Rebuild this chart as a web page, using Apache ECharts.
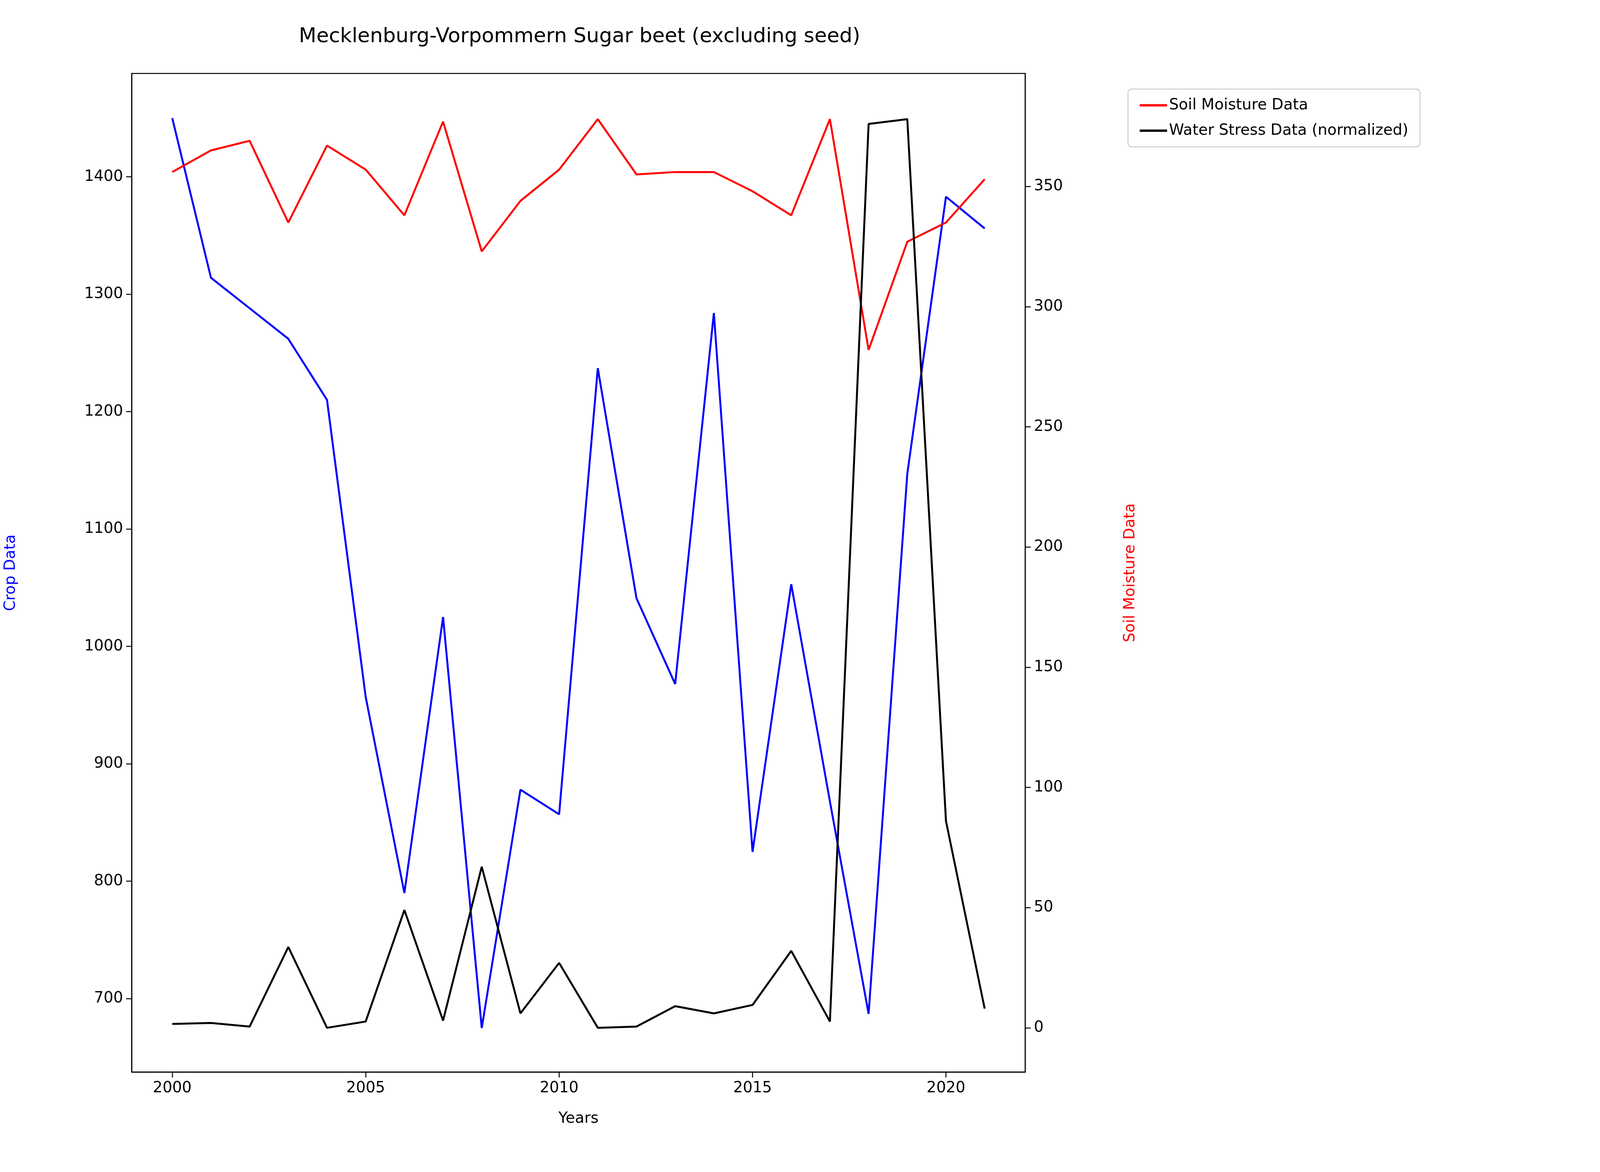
<!DOCTYPE html>
<head>
<meta charset="utf-8"/>
<style>
html, body { height: 100%; margin: 0; background: #fff; overflow: hidden; }
</style>
<script src="https://cdn.jsdelivr.net/npm/echarts@6/dist/echarts.min.js"></script>
</head>
<body>
<div id="main" style="width:100%;height:100%;"></div>
<script type="text/javascript">
var years = [2000,2001,2002,2003,2004,2005,2006,2007,2008,2009,2010,2011,2012,2013,2014,2015,2016,2017,2018,2019,2020,2021];
var cropData = [1450,1314,1288,1262,1210,957,790,1025,675,878,857,1237,1041,968,1284,825,1053,868,687,1147,1383,1356];
var soilMoisture = [356,365,369,335,367,357,338,377,323,344,357,378,355,356,356,348,338,378,282,327,335,353];
var waterStress = [1.6,2,0.5,33.6,0,2.6,49,3,67,6,27,0,0.5,9,6,9.5,32,2.6,376,378,86,8];
var xTicks = [2000,2005,2010,2015,2020];
var leftTicks = [700,800,900,1000,1100,1200,1300,1400];
var rightTicks = [0,50,100,150,200,250,300,350];

function pairs(v){ return years.map(function(y,i){ return [y, v[i]]; }); }

var font = 'DejaVu Sans';
function ax(ticks, extra){
    var a = {
        axisLine: { show: true, onZero: false, lineStyle: { color: '#000', width: 2.5 } },
        axisTick: { show: true, length: 14, customValues: ticks, lineStyle: { color: '#000', width: 2.5 } },
        axisLabel: { color: '#000', fontSize: 39, fontFamily: font, margin: 22, customValues: ticks,
            formatter: function(v){ return String(v); } },
        splitLine: { show: false }
    };
    return Object.assign(a, extra);
}

var options = {
    animation: false,
    backgroundColor: '#fff',
    title: { text: 'Mecklenburg-Vorpommern Sugar beet (excluding seed)', left: '36.1%', top: '2.1%', textAlign: 'center',
        textStyle: { color: '#000', fontSize: 52, fontWeight: 'normal', fontFamily: font } },
    grid: { left: '8.1%', right: '35.92%', top: '6.27%', bottom: '8.53%', show: true, borderColor: '#000', borderWidth: 2.5 },
    legend: {
        data: ['Soil Moisture Data', 'Water Stress Data (normalized)'],
        orient: 'vertical', left: '70.5%', top: '7.6%', padding: [22, 30, 22, 30], itemGap: 26,
        itemWidth: 70, itemHeight: 6, icon: 'rect',
        borderColor: '#ccc', borderWidth: 2.5, borderRadius: 10,
        textStyle: { color: '#000', fontSize: 39, fontFamily: font }
    },
    xAxis: ax(xTicks, { type: 'value', min: 1998.95, max: 2022.05, name: 'Years', nameLocation: 'middle', nameGap: 100,
        nameTextStyle: { color: '#000', fontSize: 39, fontFamily: font } }),
    yAxis: [
        ax(leftTicks, { type: 'value', min: 637.5, max: 1488, position: 'left', name: 'Crop Data', nameLocation: 'middle', nameGap: 290,
            nameTextStyle: { color: '#0000ff', fontSize: 39, fontFamily: font } }),
        ax(rightTicks, { type: 'value', min: -18.4, max: 397, position: 'right', name: 'Soil Moisture Data', nameLocation: 'middle', nameGap: 250,
            nameTextStyle: { color: '#ff0000', fontSize: 39, fontFamily: font } })
    ],
    series: [
        { name: 'Crop Data', type: 'line', yAxisIndex: 0, data: pairs(cropData), showSymbol: false,
          lineStyle: { color: '#0000ff', width: 5 }, itemStyle: { color: '#0000ff' } },
        { name: 'Soil Moisture Data', type: 'line', yAxisIndex: 1, data: pairs(soilMoisture), showSymbol: false,
          lineStyle: { color: '#ff0000', width: 5 }, itemStyle: { color: '#ff0000' } },
        { name: 'Water Stress Data (normalized)', type: 'line', yAxisIndex: 1, data: pairs(waterStress), showSymbol: false,
          lineStyle: { color: '#000', width: 5 }, itemStyle: { color: '#000' } }
    ]
};
var myChart = echarts.init(document.getElementById('main'));
window.onresize = myChart.resize;
myChart.setOption(options);
</script>
</body>
